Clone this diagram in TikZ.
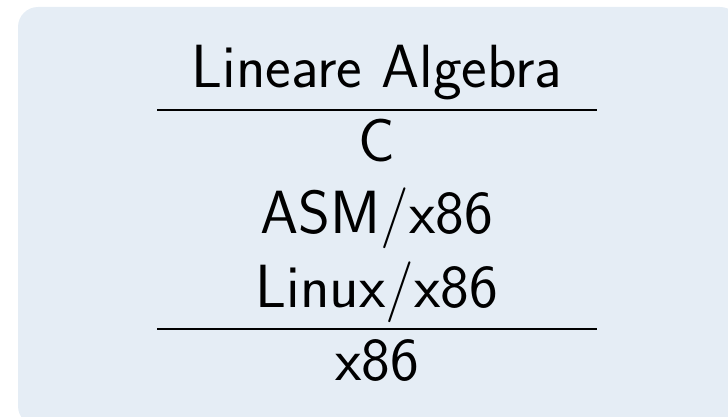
\documentclass[tikz,border=0pt]{standalone}
\usepackage{tikz}
\usepackage{xcolor}
\definecolor{blockbg}{RGB}{229,237,245}

\begin{document}
\begin{tikzpicture}[x=1pt, y=1pt, thick, row/.style = {anchor=base, inner sep=0pt, font=\sffamily\fontsize{61}{73}\selectfont}, rule/.style = {line width=2pt} ]
        \useasboundingbox (0,0) rectangle (728,416);
        \fill[blockbg, rounded corners=20pt] (18,409) rectangle (740,-10);

        \node[row] (LA) at (377,329) {Lineare Algebra};
        \node[row] (C) at (377,255) {C};
        \node[row] (ASM) at (377,183) {ASM/x86};
        \node[row] (LX) at (377,109) {Linux/x86};
        \node[row] (HW) at (377,36) {x86};

        \coordinate (r1l) at (157,306);
        \coordinate (r1r) at (597,306);
        \coordinate (r2l) at (157,87);
        \coordinate (r2r) at (597,87);

        \draw[rule] (r1l) -- (r1r);
        \draw[rule] (r2l) -- (r2r);

    \end{tikzpicture}
\end{document}
